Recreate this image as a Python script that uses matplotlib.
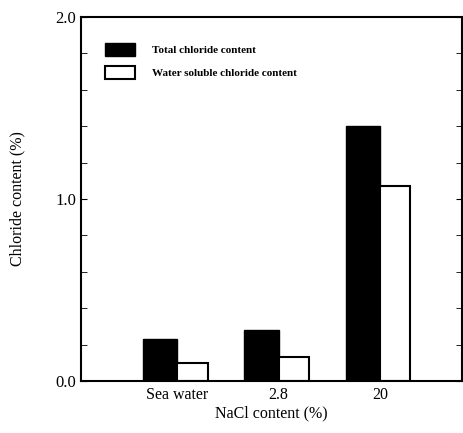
import matplotlib
matplotlib.use('Agg')
import matplotlib.pyplot as plt
from matplotlib.ticker import MultipleLocator
from matplotlib.patches import Patch

categories = ['Sea water', '2.8', '20']
total_chloride = [0.23, 0.28, 1.40]
water_soluble = [0.10, 0.13, 1.07]

plt.rcParams['font.family'] = ['Liberation Serif', 'DejaVu Serif']

fig = plt.figure(figsize=(4.64, 4.33), dpi=100)
ax = fig.add_axes([0.175, 0.12, 0.821, 0.841])

x = [1, 2, 3]
ax.bar([i - 0.17 for i in x], total_chloride, width=0.34, color='black', edgecolor='black')
ax.bar([i + 0.15 for i in x], water_soluble, width=0.30, color='white',
       edgecolor='black', linewidth=1.5)

ax.set_xlim(0.054, 3.81)
ax.set_ylim(0, 2.0)
ax.set_xticks(x)
ax.set_xticklabels(categories, fontsize=11.5)
ax.set_yticks([0, 1, 2])
ax.set_yticklabels(['0.0', '1.0', '2.0'], fontsize=12)
ax.yaxis.set_minor_locator(MultipleLocator(0.2))
ax.tick_params(axis='x', length=0, pad=4)
ax.tick_params(axis='y', which='both', direction='in', right=True, length=4)
ax.set_xlabel('NaCl content (%)', fontsize=11.5, labelpad=2)
ax.set_ylabel('Chloride content (%)', fontsize=11.5, labelpad=22)
for s in ax.spines.values():
    s.set_linewidth(1.5)

handles = [Patch(facecolor='black', edgecolor='black', label='Total chloride content'),
           Patch(facecolor='white', edgecolor='black', linewidth=1.5,
                 label='Water soluble chloride content')]
ax.legend(handles=handles, loc='upper left', bbox_to_anchor=(0.035, 0.955), frameon=False,
          prop={'size': 8, 'weight': 'bold'}, handlelength=2.7, handleheight=1.4,
          labelspacing=0.9, handletextpad=1.6)

fig.savefig('out.png', dpi=100)
